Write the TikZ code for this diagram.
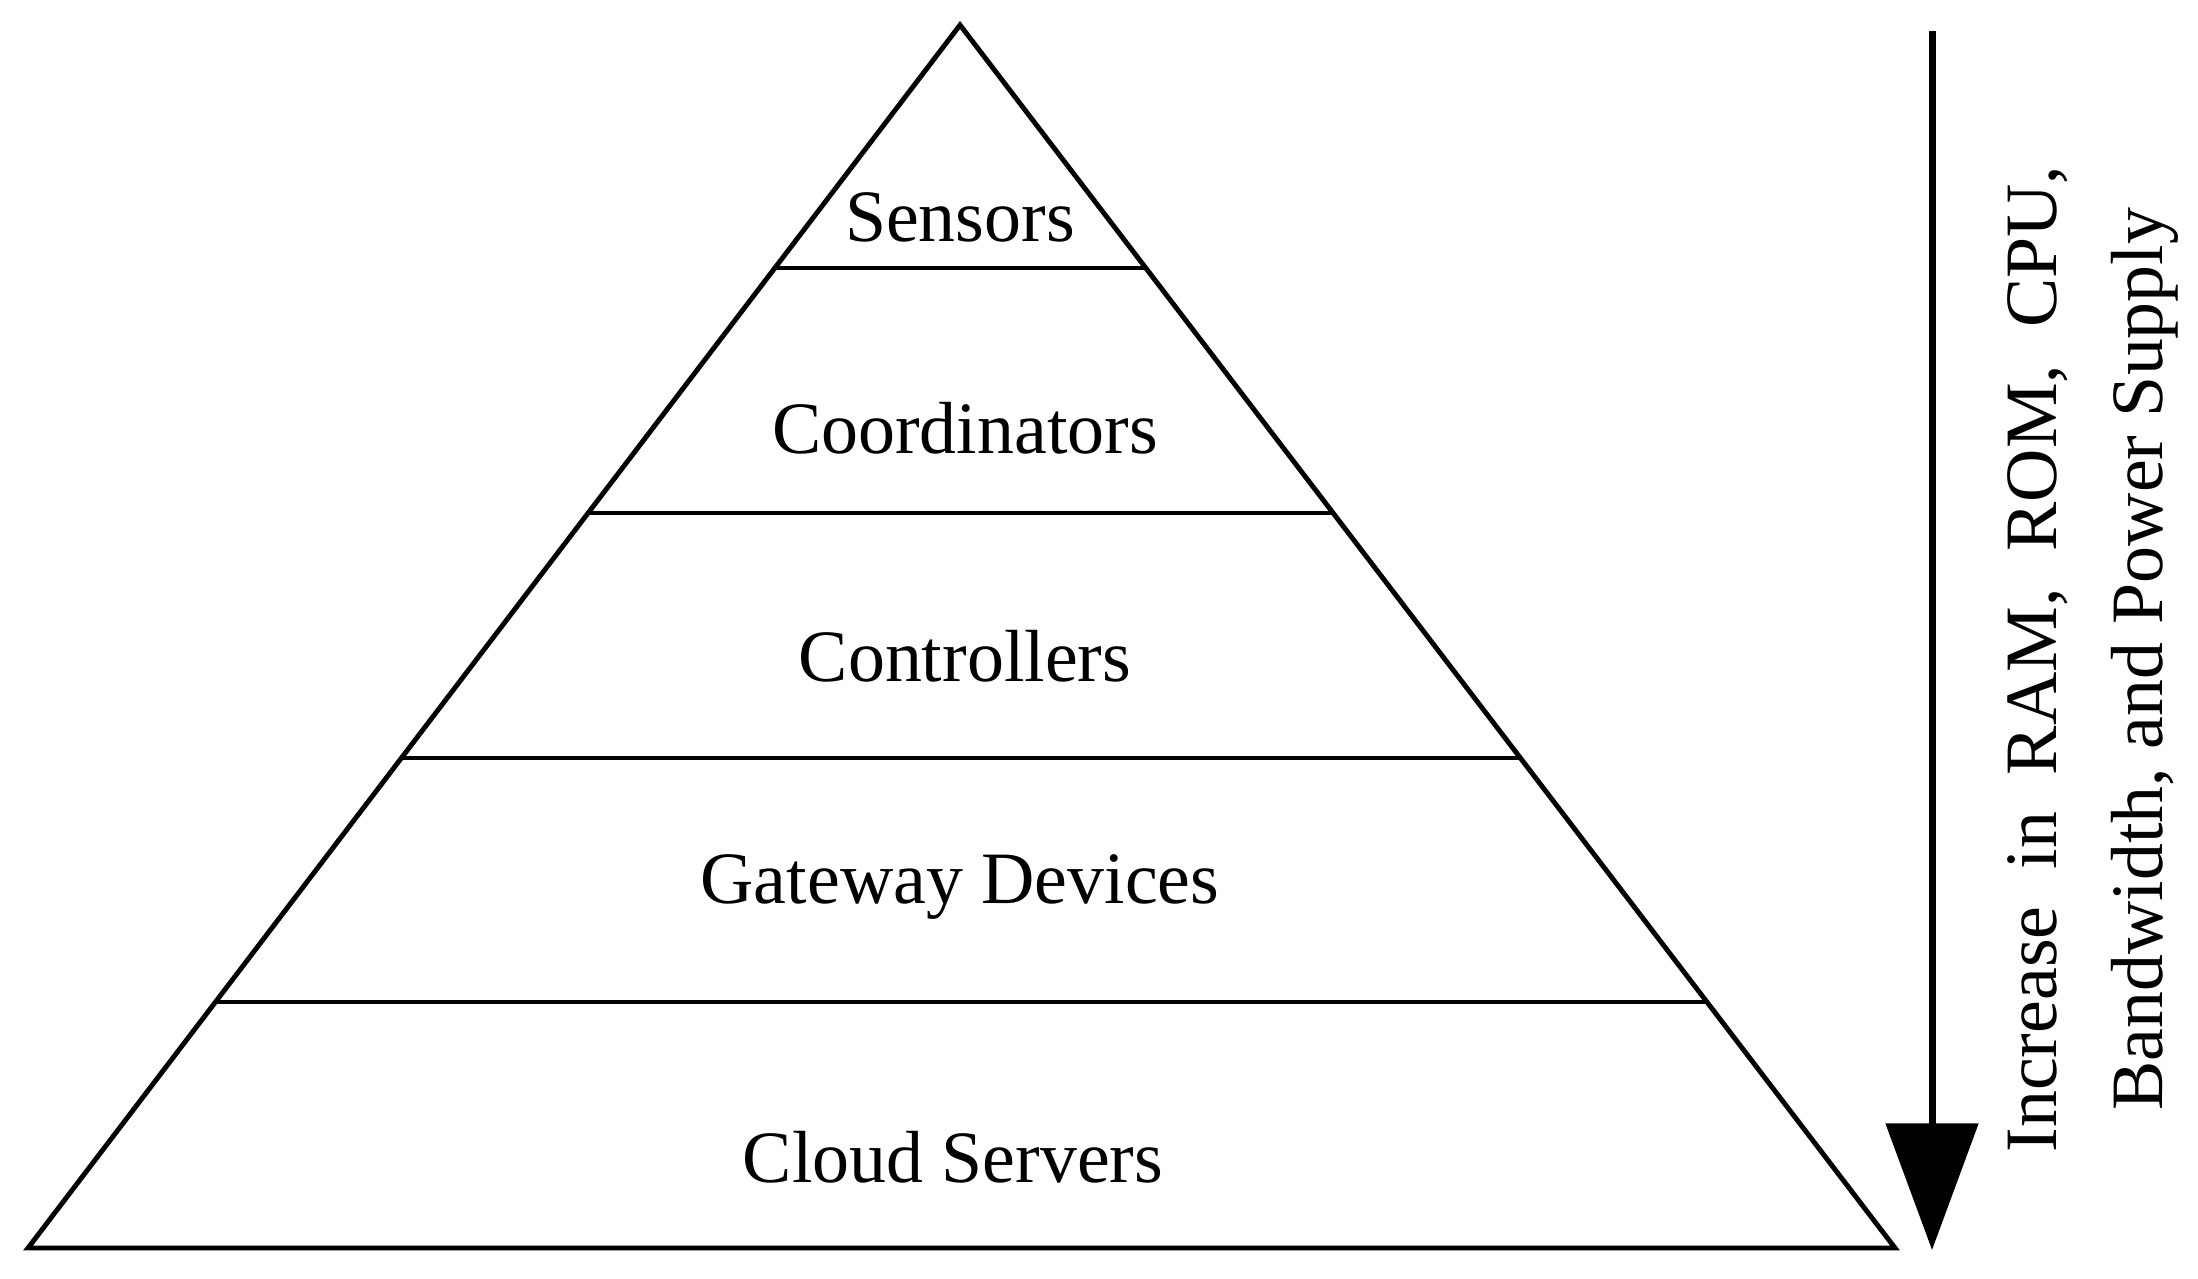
\documentclass[tikz,border=0pt]{standalone}
\usepackage{fontspec}
\setmainfont{Liberation Serif}
\usetikzlibrary{arrows.meta}
\tikzset{tier/.style={font=\fontsize{21}{25}\selectfont}}
\begin{document}
\begin{tikzpicture}[x=0.01cm,y=-0.01cm,line width=1.4pt]
\useasboundingbox (0,0) rectangle (2198,1278);

\coordinate (top) at (960,25);
\coordinate (bl) at (28,1248);
\coordinate (br) at (1895,1248);

\coordinate (al) at (775,268);  \coordinate (ar) at (1145,268);
\coordinate (bbl) at (588,513); \coordinate (bbr) at (1332,513);
\coordinate (cl) at (401,758);  \coordinate (cr) at (1519,758);
\coordinate (dl) at (215,1002); \coordinate (dr) at (1705,1002);

\draw[line join=miter] (top) -- (br) -- (bl) -- cycle;
\draw (al) -- (ar);
\draw (bbl) -- (bbr);
\draw (cl) -- (cr);
\draw (dl) -- (dr);

\node[tier] (sens) at (960,217) {Sensors};
\node[tier] (coor) at (965,428) {Coordinators};
\node[tier] (cont) at (965,656) {Controllers};
\node[tier] (gate) at (960,887) {Gateway Devices};
\node[tier] (clou) at (953,1157) {Cloud Servers};

\coordinate (as) at (1932,31);
\coordinate (ae) at (1932,1250);
\draw[-{Triangle[length=36pt,width=26pt]}, line width=2pt] (as) -- (ae);

\node[rotate=90, align=center, font=\fontsize{21}{30}\selectfont] (incr) at (2093,659)
  {Increase\ \ in\ \ RAM,\ \ ROM,\ \ CPU,\\ Bandwidth, and Power Supply};
\end{tikzpicture}
\end{document}
